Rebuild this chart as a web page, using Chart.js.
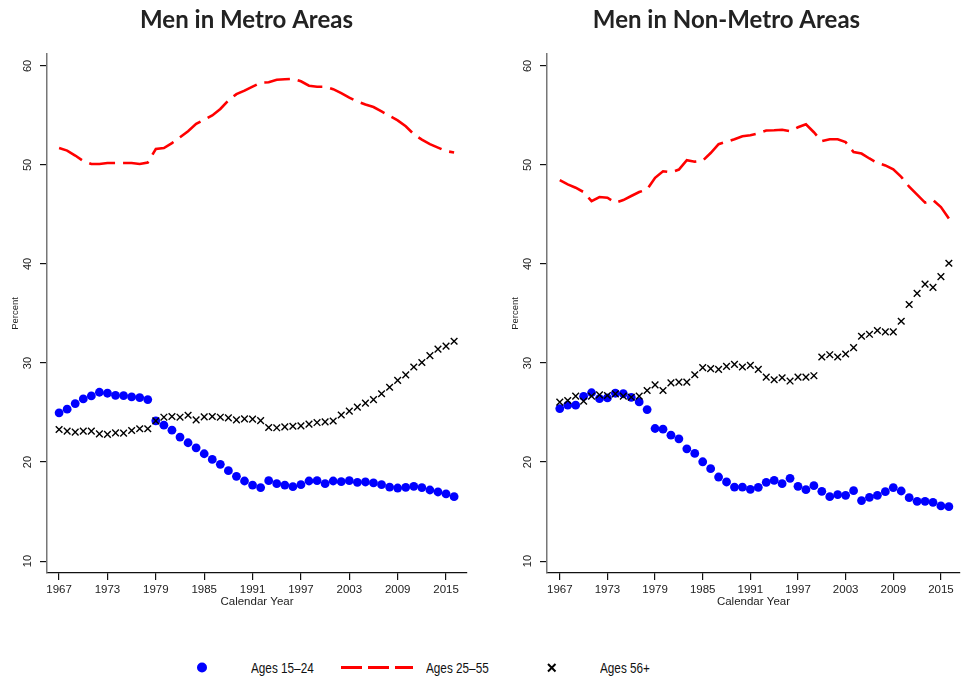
<!DOCTYPE html>
<html><head><meta charset="utf-8">
<script src="https://cdn.jsdelivr.net/npm/chart.js@4"></script>
<style>
html,body{margin:0;padding:0;background:#fff;width:966px;height:678px;overflow:hidden;position:relative;}
#c1{position:absolute;left:0;top:0;}
#c2{position:absolute;left:487px;top:0;}
.lg{position:absolute;font-family:"Liberation Sans",Arial,sans-serif;font-size:14.5px;color:#111;line-height:16px;white-space:nowrap;transform:scaleX(0.81);transform-origin:0 50%;}
</style></head><body>
<canvas id="c1" width="493" height="620"></canvas>
<canvas id="c2" width="479" height="620"></canvas>
<svg style="position:absolute;left:0;top:650px" width="966" height="30">
 <circle cx="202" cy="17.5" r="5" fill="#0000ff"/>
 <line x1="341" y1="17.5" x2="413" y2="17.5" stroke="#ff0000" stroke-width="3" stroke-dasharray="21 6"/>
 <path d="M548 14 L555.5 21.5 M555.5 14 L548 21.5" stroke="#000" stroke-width="2"/>
</svg>
<div class="lg" style="left:251px;top:660px">Ages 15–24</div>
<div class="lg" style="left:426px;top:660px">Ages 25–55</div>
<div class="lg" style="left:600px;top:660px">Ages 56+</div>
<script>
const years = [1967,1968,1969,1970,1971,1972,1973,1974,1975,1976,1977,1978,1979,1980,1981,1982,1983,1984,1985,1986,1987,1988,1989,1990,1991,1992,1993,1994,1995,1996,1997,1998,1999,2000,2001,2002,2003,2004,2005,2006,2007,2008,2009,2010,2011,2012,2013,2014,2015,2016];
const xTickYears = [1967,1973,1979,1985,1991,1997,2003,2009,2015];
const yTickValues = [10,20,30,40,50,60];
const seriesLabels = ['Ages 15–24','Ages 25–55','Ages 56+'];
const panelTitles = ['Men in Metro Areas','Men in Non-Metro Areas'];

const metro15to24 = [24.97,25.34,25.91,26.38,26.68,27.05,26.95,26.74,26.71,26.58,26.51,26.31,24.16,23.72,23.22,22.52,21.95,21.44,20.84,20.27,19.77,19.13,18.56,18.09,17.68,17.42,18.12,17.82,17.68,17.52,17.72,18.09,18.12,17.82,18.09,18.02,18.12,17.95,17.99,17.89,17.72,17.48,17.38,17.45,17.55,17.42,17.18,16.98,16.78,16.51];
const metro25to55 = [51.7,51.45,50.95,50.4,50.1,50.1,50.2,50.2,50.2,50.2,50.1,50.25,51.6,51.7,52.2,52.8,53.4,54.15,54.55,55.0,55.65,56.5,57.15,57.5,57.9,58.3,58.35,58.6,58.65,58.7,58.45,58.0,57.9,57.9,57.65,57.25,56.8,56.4,56.1,55.85,55.4,54.95,54.5,53.9,53.1,52.55,52.1,51.75,51.4,51.25];
const metro56plus = [23.29,23.12,23.02,23.12,23.12,22.85,22.79,22.95,22.92,23.19,23.36,23.36,24.16,24.53,24.6,24.53,24.73,24.26,24.56,24.6,24.53,24.46,24.26,24.36,24.33,24.19,23.49,23.46,23.56,23.62,23.66,23.83,23.99,24.06,24.15,24.75,25.15,25.55,25.95,26.3,26.9,27.55,28.25,28.8,29.6,30.05,30.75,31.4,31.7,32.2];

const nonMetro15to24 = [25.4,25.74,25.74,26.64,27.0,26.4,26.48,26.95,26.9,26.54,26.07,25.3,23.39,23.32,22.72,22.35,21.34,20.87,20.03,19.33,18.49,17.99,17.48,17.48,17.25,17.45,17.95,18.15,17.82,18.36,17.55,17.21,17.62,17.05,16.51,16.71,16.64,17.11,16.11,16.44,16.64,17.01,17.42,17.08,16.41,16.04,16.04,15.94,15.57,15.5];
const nonMetro25to55 = [48.46,48.03,47.7,47.26,46.35,46.76,46.69,46.19,46.45,46.86,47.26,47.53,48.7,49.36,49.26,49.53,50.47,50.33,50.43,51.2,52.1,52.34,52.6,52.9,53.0,53.2,53.47,53.5,53.55,53.4,53.8,54.1,53.3,52.4,52.6,52.6,52.3,51.3,51.15,50.65,50.2,49.95,49.55,48.8,47.8,47.0,46.2,46.45,45.75,44.6];
const nonMetro56plus = [26.05,26.22,26.66,26.15,26.66,26.79,26.72,26.89,26.66,26.55,26.66,27.23,27.8,27.23,28.0,28.07,28.07,28.82,29.53,29.43,29.36,29.66,29.86,29.6,29.76,29.36,28.58,28.31,28.51,28.18,28.58,28.58,28.72,30.61,30.84,30.61,30.91,31.55,32.7,32.9,33.28,33.14,33.14,34.22,35.91,37.03,37.97,37.64,38.72,40.07];

function pts(arr){ return years.map((yr,i)=>({x:yr,y:arr[i]})); }

// center the title over the whole canvas rather than the padded layout box
const titleSpan = {
  id:'titleSpan',
  afterLayout(chart){
    const t = chart.titleBlock;
    if (t) { t.left = 0; t.right = chart.width; t.width = chart.width; }
  }
};

function makeChart(id, title, young, prime, old, cfg){
  return new Chart(document.getElementById(id), {
    type:'line',
    plugins:[titleSpan],
    data:{datasets:[
      {label:seriesLabels[2], data:pts(old), showLine:false, pointStyle:'crossRot', pointRadius:4.7, pointBorderWidth:1.4, borderColor:'#000', backgroundColor:'#000', order:0},
      {label:seriesLabels[0], data:pts(young), showLine:false, pointStyle:'circle', pointRadius:4.4, pointBorderWidth:0, borderColor:'#0000ff', backgroundColor:'#0000ff', order:1},
      {label:seriesLabels[1], data:pts(prime), showLine:true, pointRadius:0, borderColor:'#ff0000', borderWidth:2.6, borderDash:[26,8], tension:0, fill:false, order:2}
    ]},
    options:{
      responsive:false, animation:false, devicePixelRatio:1,
      layout:{padding:{left:0,right:cfg.padRight,top:0,bottom:7}},
      plugins:{
        legend:{display:false}, tooltip:{enabled:false},
        title:{display:true,text:title,color:'#222',font:{family:'Lato',size:24,weight:'bold',lineHeight:1.2},padding:{top:5.6,bottom:19.6}}
      },
      scales:{
        x:{type:'linear',min:cfg.xmin,max:cfg.xmax,
          afterBuildTicks:s=>{s.ticks=xTickYears.map(v=>({value:v}));},
          afterFit:s=>{s.height=40;},
          grid:{display:true,drawOnChartArea:false,drawTicks:true,tickLength:7,tickColor:'#111',lineWidth:1.2},
          border:{display:true,color:'#111',width:1.3},
          ticks:{autoSkip:false,maxRotation:0,minRotation:0,padding:3,color:'#222',font:{family:'Liberation Sans',size:11.5},callback:v=>String(v)},
          title:{display:true,text:'Calendar Year',color:'#222',font:{family:'Liberation Sans',size:11.5},padding:{top:0,bottom:4}}
        },
        y:{type:'linear',min:8.8,max:61.2,
          afterBuildTicks:s=>{s.ticks=yTickValues.map(v=>({value:v}));},
          afterFit:s=>{s.width=cfg.yWidth;},
          grid:{display:true,drawOnChartArea:false,drawTicks:true,tickLength:7,tickColor:'#111',lineWidth:1.2},
          border:{display:true,color:'#777',width:1.5},
          ticks:{autoSkip:false,minRotation:90,maxRotation:90,crossAlign:'center',padding:6,color:'#222',font:{family:'Liberation Sans',size:11},callback:v=>String(v)},
          title:{display:true,text:'Percent',color:'#222',font:{family:'Liberation Sans',size:9.5},padding:{top:cfg.titlePad,bottom:0}}
        }
      }
    }
  });
}

makeChart('c1', panelTitles[0], metro15to24, metro25to55, metro56plus, {padRight:26, xmin:1965.5, xmax:2017.6, yWidth:47, titlePad:9.3});
makeChart('c2', panelTitles[1], nonMetro15to24, nonMetro25to55, nonMetro56plus, {padRight:0, xmin:1965.39, xmax:2017.39, yWidth:60, titlePad:22.3});
</script>
</body></html>
